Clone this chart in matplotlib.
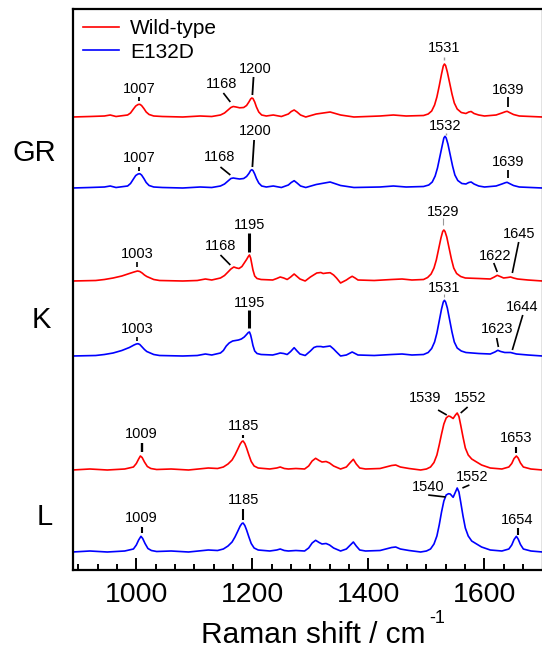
import matplotlib
matplotlib.use("Agg")
import matplotlib.pyplot as plt
from matplotlib.ticker import MultipleLocator, AutoMinorLocator

plt.rcParams['font.family'] = ['Liberation Sans', 'DejaVu Sans']

# spectra: (Raman shift in cm-1, intensity above the trace baseline)
gr_wt = [(890, 0), (920, 0.5), (945, 1), (955, 2), (965, 0.5), (985, 2), (990, 4), (995, 8),
         (999, 11), (1003, 12.5), (1006, 12.7), (1009, 11.5), (1013, 8.5), (1017, 5),
         (1022, 2.5), (1030, 1), (1045, 0.5), (1080, 0), (1110, 1), (1130, 0.5), (1145, 2),
         (1152, 4), (1158, 7), (1163, 9.5), (1167, 10.5), (1172, 10), (1178, 9.2), (1185, 9.5),
         (1190, 11.5), (1194, 15), (1197, 18), (1199, 19), (1201, 18.5), (1204, 15), (1207, 10),
         (1211, 5), (1216, 2), (1224, 1), (1236, 2), (1250, 0.5), (1262, 3), (1267, 5.5),
         (1272, 7), (1277, 5), (1283, 2), (1292, 0), (1310, 3), (1334, 5), (1352, 2), (1375, 0),
         (1420, 1), (1443, 2), (1465, 1), (1495, 1.5), (1503, 3), (1509, 6), (1514, 12),
         (1518, 20), (1522, 31), (1526, 43), (1529, 51), (1531, 53), (1533, 51.5), (1536, 45),
         (1540, 34), (1544, 23), (1548, 14), (1553, 8), (1560, 4.5), (1568, 3.5), (1573, 5),
         (1577, 5.5), (1582, 3.5), (1590, 2), (1600, 1), (1620, 2), (1630, 4), (1636, 5.3),
         (1639, 5.7), (1643, 4.5), (1650, 2.5), (1660, 1), (1700, 0)]

gr_mut = [(890, 0), (920, 0.5), (945, 1), (955, 2), (965, 0.5), (985, 2), (990, 4.5), (995, 9),
          (999, 12.5), (1003, 14), (1006, 14.3), (1009, 13), (1013, 9.5), (1017, 5.5),
          (1022, 2.5), (1030, 1), (1045, 0.5), (1080, 0), (1110, 1), (1130, 0.5), (1145, 2),
          (1152, 4), (1158, 7), (1163, 9.5), (1167, 10), (1172, 9.5), (1178, 9), (1185, 9.5),
          (1190, 11.5), (1194, 14.5), (1197, 17.5), (1199, 18.3), (1201, 17.5), (1204, 14),
          (1207, 9.5), (1211, 5), (1216, 2), (1224, 1), (1236, 2), (1250, 0.5), (1262, 3),
          (1267, 5.5), (1272, 7.3), (1277, 5), (1283, 2), (1292, 0.5), (1310, 3.5), (1334, 6),
          (1352, 2.5), (1375, 0.5), (1420, 1), (1443, 2), (1465, 1), (1495, 1.5), (1504, 3),
          (1510, 6), (1515, 12), (1519, 20), (1523, 31), (1527, 42), (1530, 50), (1532, 51.7),
          (1534, 50), (1537, 44), (1541, 33), (1545, 22), (1549, 13), (1554, 7.5), (1561, 4.5),
          (1568, 4), (1573, 5.5), (1577, 6), (1582, 4), (1590, 2), (1600, 1), (1620, 2),
          (1630, 4), (1636, 5.3), (1639, 5.7), (1643, 4.5), (1650, 2.5), (1660, 1), (1700, 0)]

k_wt = [(890, 0), (930, 0.5), (945, 1.5), (960, 3), (975, 5), (988, 7.5), (996, 9), (1002, 10),
        (1006, 9.5), (1010, 8), (1014, 6), (1018, 4.5), (1024, 3), (1030, 1.5), (1040, 0.5),
        (1080, 0), (1105, 0.5), (1119, 2), (1130, 1), (1145, 3), (1152, 5.5), (1158, 9),
        (1163, 12), (1168, 14), (1173, 13), (1177, 12.5), (1182, 14.5), (1186, 18),
        (1190, 21.5), (1193, 24.5), (1195, 26), (1197, 23), (1199, 17), (1201, 11), (1204, 5),
        (1208, 2.5), (1215, 1.5), (1235, 1), (1242, 2.5), (1248, 4), (1254, 3), (1260, 1.5),
        (1266, 4), (1272, 7), (1277, 4.5), (1282, 2), (1291, 0), (1300, 4), (1311, 8),
        (1318, 8.5), (1322, 7.5), (1328, 8), (1334, 8.3), (1340, 6), (1345, 3), (1352, -2),
        (1362, 1), (1367, 3), (1372, 4.7), (1377, 3), (1382, 1), (1410, 0.5), (1440, 1.5),
        (1458, 2), (1475, 1), (1495, 1.5), (1502, 3.5), (1508, 7), (1513, 13), (1517, 21),
        (1521, 32), (1525, 43), (1528, 49.5), (1530, 51), (1532, 49.5), (1535, 44), (1539, 33),
        (1543, 22), (1547, 13), (1552, 7.5), (1559, 4.5), (1567, 3), (1590, 2.5), (1610, 2),
        (1617, 4), (1622, 5.7), (1627, 4.5), (1633, 3), (1640, 3.5), (1645, 4), (1650, 3),
        (1657, 2), (1675, 1), (1700, 0)]

k_mut = [(890, 0), (930, 0.5), (945, 1.5), (960, 3), (975, 5.5), (988, 8.5), (996, 11),
         (1000, 12), (1003, 12.3), (1006, 11.5), (1010, 9), (1014, 6.5), (1018, 4.5),
         (1024, 3), (1030, 1.5), (1040, 0.5), (1080, 0), (1105, 0.5), (1119, 2), (1130, 1),
         (1145, 3), (1150, 5.5), (1155, 10), (1160, 13), (1166, 15), (1171, 15.5), (1176, 16),
         (1181, 17), (1186, 19), (1190, 21.5), (1193, 23.5), (1195, 24), (1197, 21), (1199, 16),
         (1201, 10.5), (1204, 5), (1208, 2.5), (1215, 1.5), (1235, 1), (1242, 2), (1248, 3),
         (1254, 2.5), (1260, 1.5), (1266, 4.5), (1272, 8.3), (1277, 5), (1282, 2), (1291, 0.5),
         (1300, 5), (1306, 8.5), (1311, 9.5), (1318, 9.5), (1322, 9), (1328, 9.5), (1334, 10),
         (1340, 7), (1345, 4), (1352, 0), (1362, 1), (1367, 2.5), (1372, 4), (1377, 2.5),
         (1382, 1), (1410, 0.5), (1440, 1.5), (1458, 2), (1475, 1), (1495, 1.5), (1503, 3.5),
         (1509, 7.5), (1514, 14), (1518, 23), (1522, 35), (1526, 47), (1529, 54), (1531, 55.7),
         (1533, 54), (1536, 48), (1540, 36), (1544, 24), (1548, 14), (1553, 8), (1560, 5),
         (1568, 3.5), (1590, 2.5), (1610, 2), (1618, 4), (1623, 5.7), (1628, 4.5), (1635, 3.5),
         (1645, 3.5), (1655, 2), (1675, 1), (1700, 0)]

l_wt = [(890, 0), (920, 1), (950, 0), (980, 1), (995, 3), (1000, 6.5), (1004, 11), (1007, 14),
        (1010, 12.5), (1014, 8), (1019, 3.5), (1025, 1.5), (1035, 0.5), (1060, 1), (1090, 0),
        (1124, 2), (1140, 1.5), (1150, 3), (1158, 6), (1165, 10), (1170, 15), (1175, 21),
        (1179, 26), (1182, 28.5), (1184, 29), (1187, 26.5), (1190, 22), (1194, 15), (1198, 8.5),
        (1203, 4), (1210, 2), (1230, 1), (1242, 2), (1248, 3), (1255, 1.5), (1262, 1),
        (1275, 1.5), (1290, 1), (1297, 4), (1303, 9), (1309, 11.7), (1315, 9.5), (1320, 8),
        (1327, 8.5), (1333, 7), (1340, 4), (1352, 1), (1362, 3), (1368, 7), (1374, 10.7),
        (1379, 6), (1385, 2), (1395, 1), (1420, 1.5), (1440, 4.5), (1447, 5), (1455, 3),
        (1470, 1.5), (1490, 0), (1500, 1), (1507, 3), (1513, 7.5), (1518, 15), (1522, 25),
        (1526, 36), (1530, 46), (1534, 52), (1538, 54), (1541, 53.5), (1546, 51.5), (1550, 55),
        (1553, 57), (1556, 53.5), (1559, 45), (1563, 33), (1567, 22), (1572, 15), (1578, 11),
        (1585, 8.5), (1595, 5), (1610, 2), (1630, 1), (1642, 3), (1647, 6.5), (1651, 11.5),
        (1655, 14), (1658, 12), (1662, 7), (1667, 3), (1680, 1), (1700, 0)]

l_mut = [(890, 0), (920, 1), (950, 0), (980, 1), (995, 3), (1000, 7), (1004, 12), (1008, 15.7),
         (1011, 13.5), (1015, 8.5), (1020, 3.5), (1026, 1.5), (1035, 0.5), (1060, 1), (1090, 0),
         (1124, 2), (1140, 1.5), (1150, 3), (1158, 6), (1165, 10), (1170, 15), (1175, 21),
         (1179, 26), (1182, 28.5), (1184, 29), (1187, 26.5), (1190, 22), (1194, 15), (1198, 8.5),
         (1203, 4), (1210, 2), (1230, 1), (1242, 2), (1248, 3), (1255, 1.5), (1262, 1),
         (1275, 1.5), (1290, 1), (1297, 4), (1303, 9), (1309, 11.7), (1315, 9.5), (1320, 8),
         (1327, 8.5), (1333, 7), (1340, 4), (1352, 1), (1362, 3), (1368, 6.5), (1374, 10),
         (1379, 6), (1385, 2), (1395, 1), (1420, 1.5), (1440, 4.5), (1447, 5), (1455, 3),
         (1470, 1.5), (1490, 0), (1500, 1), (1507, 3), (1513, 8), (1518, 16), (1522, 27),
         (1526, 40), (1530, 51), (1534, 57), (1538, 58.3), (1541, 58), (1546, 54.7), (1550, 60),
         (1553, 64), (1556, 60), (1559, 50), (1563, 36), (1567, 24), (1572, 16), (1578, 11),
         (1585, 8.5), (1595, 5), (1610, 2), (1630, 1), (1642, 3), (1647, 7), (1651, 12.5),
         (1655, 15.7), (1658, 13), (1662, 7.5), (1667, 3), (1680, 1), (1700, 0)]

samples = ["GR", "K", "L"]
variants = ["Wild-type", "E132D"]

# peak labels for each trace (same order as the traces)
peak_labels = [
    ["1007", "1168", "1200", "1531", "1639"],
    ["1007", "1168", "1200", "1532", "1639"],
    ["1003", "1168", "1195", "1529", "1622", "1645"],
    ["1003", "1195", "1531", "1623", "1644"],
    ["1009", "1185", "1539", "1552", "1653"],
    ["1009", "1185", "1540", "1552", "1654"],
]

# ---- layout ----
traces = [gr_wt, gr_mut, k_wt, k_mut, l_wt, l_mut]
offsets = [453, 382, 289, 214, 100, 18]
colors = ["#ff0000", "#0000ff"]

# text x, text baseline y, leader line x0, y0, x1, y1, line width
label_pos = [
    [(1005, 477, 1005, 473, 1005, 469, 1.3), (1147, 482, 1150, 477, 1162, 468, 1.2),
     (1205, 497, 1202, 493, 1200, 475, 1.3), (1531, 518, 1531, 513, 1531, 510, 1.0),
     (1640, 476, 1640, 473, 1640, 463, 1.3)],
    [(1005, 408, 1005, 403, 1005, 399, 1.3), (1143, 409, 1145, 403, 1162, 395, 1.2),
     (1205, 435, 1203, 430, 1200, 403, 1.3), (1533, 440, 1533, 437, 1533, 435, 1.0),
     (1640, 404, 1640, 400, 1640, 392, 1.3)],
    [(1002, 312, 1002, 308, 1002, 303, 1.2), (1145, 320, 1145, 315, 1162, 305, 1.2),
     (1195, 341, 1195, 337, 1195, 318, 2.2), (1529, 354, 1529, 352, 1529, 345, 0.8),
     (1619, 310, 1616, 307, 1622, 298, 1.2), (1659, 332, 1659, 328, 1648, 297, 1.2)],
    [(1002, 237, 1002, 233, 1002, 229, 1.2), (1195, 263, 1195, 260, 1195, 242, 2.2),
     (1531, 278, 1531, 276, 1531, 273, 0.8), (1622, 237, 1621, 232, 1624, 223, 1.2),
     (1665, 259, 1666, 255, 1648, 220, 1.2)],
    [(1009, 132, 1009, 127, 1009, 118, 1.7), (1184, 140, 1184, 135, 1184, 132, 1.5),
     (1498, 168, 1520, 160, 1535, 155, 1.2), (1575, 168, 1571, 163, 1559, 157, 1.2),
     (1655, 128, 1655, 123, 1655, 117, 1.5)],
    [(1009, 48, 1009, 43, 1009, 37, 1.5), (1184, 66, 1184, 61, 1184, 50, 1.5),
     (1503, 79, 1503, 75, 1533, 73, 1.2), (1578, 89, 1574, 85, 1562, 82, 1.2),
     (1657, 46, 1657, 42, 1657, 35, 1.5)],
]
gray_labels = ["1529", "1531", "1532"]

side_pos = [(13, 153), (32, 320), (37, 517)]  # pixel positions of sample names

W, H = 542, 650
fig = plt.figure(figsize=(W / 100, H / 100), dpi=100)
ax = fig.add_axes([72.5 / W, 1 - 570 / H, (542.5 - 72.5) / W, 561 / H])

for i, pts in enumerate(traces):
    x = [p[0] for p in pts]
    y = [p[1] + offsets[i] for p in pts]
    line, = ax.plot(x, y, color=colors[i % 2], lw=1.2)
    if i < 2:
        line.set_label(variants[i])

for i, labels in enumerate(peak_labels):
    for lab, (tx, ty, x0, y0, x1, y1, lw) in zip(labels, label_pos[i]):
        c = "#999999" if (lab in gray_labels and lw < 1.1) else "black"
        ax.plot([x0, x1], [y0, y1], color=c, lw=lw, solid_capstyle="butt")
        ax.text(tx, ty, lab, fontsize=10.5, ha="center", va="baseline")

for name, (px, py) in zip(samples, side_pos):
    fig.text(px / W, 1 - py / H, name, fontsize=21, ha="left", va="center")

ax.set_xlim(890, 1700)
ax.set_ylim(0, 561)
ax.set_yticks([])
ax.xaxis.set_major_locator(MultipleLocator(200))
ax.xaxis.set_minor_locator(AutoMinorLocator(6))
ax.tick_params(axis="x", which="major", direction="in", length=8.5, width=1.4,
               labelsize=20.5, pad=9)
ax.tick_params(axis="x", which="minor", direction="in", length=4, width=1.4)
for s in ax.spines.values():
    s.set_linewidth(1.6)

ax.set_xlabel("Raman shift / cm", fontsize=21.5)
ax.xaxis.label.set_va("baseline")
ax.xaxis.set_label_coords((313 - 72.5) / 470, (570 - 643) / 561)
fig.text(429 / W, 1 - 623 / H, "-1", fontsize=13, ha="left", va="baseline")

ax.legend(loc="upper left", bbox_to_anchor=(0.0, 1.0), frameon=False, fontsize=15,
          handlelength=1.75, handletextpad=0.5, labelspacing=0.2, borderpad=0.2,
          borderaxespad=0.3)

fig.savefig("out.png", dpi=100)
